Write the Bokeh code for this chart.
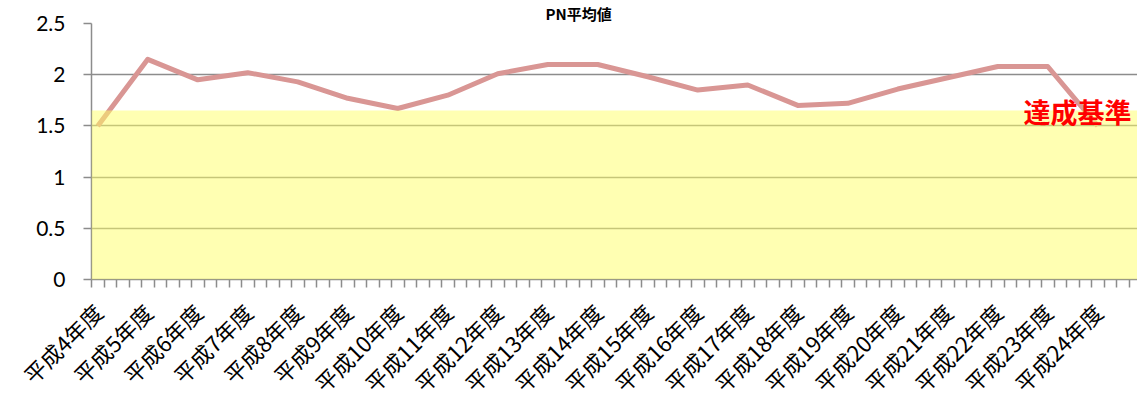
from bokeh.plotting import figure
from bokeh.models import Range1d, FixedTicker, BoxAnnotation, Label
from bokeh.embed import file_html
from bokeh.resources import INLINE
from math import pi

# ---- data ----
years = ["平成4年度", "平成5年度", "平成6年度", "平成7年度", "平成8年度", "平成9年度",
         "平成10年度", "平成11年度", "平成12年度", "平成13年度", "平成14年度", "平成15年度",
         "平成16年度", "平成17年度", "平成18年度", "平成19年度", "平成20年度", "平成21年度",
         "平成22年度", "平成23年度", "平成24年度"]
pn_values = [1.50, 2.15, 1.95, 2.02, 1.93, 1.77, 1.67, 1.80, 2.01, 2.10, 2.10, 1.98,
             1.85, 1.90, 1.70, 1.72, 1.86, 1.97, 2.08, 2.08, 1.50]
target_value = 1.65
y_ticks = [0, 0.5, 1, 1.5, 2, 2.5]
y_tick_labels = ["0", "0.5", "1", "1.5", "2", "2.5"]
title_text = "PN平均値"
target_text = "達成基準"

# x axis: each year spans 4 small tick slots; the point sits in the middle of the first slot
slots_per_year = 4
x_pos = [slots_per_year * i + 0.5 for i in range(len(years))]
slot_px = 12.5

W, H = 1137, 412
left_border, top_border, bottom_border = 91, 20, 132
frame_w = W - left_border
x_end = frame_w / slot_px

p = figure(width=W, height=H, output_backend="svg", toolbar_location=None,
           x_range=Range1d(0, x_end), y_range=Range1d(0, 2.5),
           min_border_left=left_border, min_border_right=0,
           min_border_top=top_border, min_border_bottom=bottom_border,
           outline_line_color=None, background_fill_color="white",
           title=title_text)

# title above the plot
p.title.align = "left"
p.title.offset = 583 - left_border - 38
p.title.text_font = "Noto Sans CJK JP"
p.title.text_font_size = "15px"
p.title.text_font_style = "bold"
p.title.text_color = "black"
p.title.standoff = 0

gray = "#8c8c8c"

# grid
p.xgrid.grid_line_color = None
p.ygrid.ticker = FixedTicker(ticks=y_ticks)
p.ygrid.grid_line_color = gray
p.ygrid.grid_line_width = 1.5

# y axis
ya = p.yaxis[0]
ya.ticker = FixedTicker(ticks=y_ticks)
ya.major_label_overrides = {t: s for t, s in zip(y_ticks, y_tick_labels)}
ya.axis_line_color = gray
ya.axis_line_width = 1.5
ya.major_tick_line_color = gray
ya.major_tick_line_width = 1.5
ya.major_tick_out = 8
ya.major_tick_in = 0
ya.minor_tick_line_color = None
ya.major_label_text_font = "Lato"
ya.major_label_text_font_size = "21px"
ya.major_label_text_color = "black"
ya.major_label_standoff = 18

# x axis: small ticks every slot, year labels at the points
xa = p.xaxis[0]
n_slots = slots_per_year * len(years)
xa.ticker = FixedTicker(ticks=x_pos, minor_ticks=list(range(0, n_slots + 1)))
xa.major_label_overrides = {x: y for x, y in zip(x_pos, years)}
xa.major_label_orientation = pi / 4
xa.major_label_text_font = "Noto Sans CJK JP"
xa.major_label_text_font_size = "22px"
xa.major_label_text_color = "black"
xa.major_label_standoff = 20
xa.axis_line_color = gray
xa.axis_line_width = 1.5
xa.major_tick_line_color = None
xa.major_tick_out = 8
xa.major_tick_in = 0
xa.minor_tick_line_color = gray
xa.minor_tick_line_width = 1.5
xa.minor_tick_out = 8
xa.minor_tick_in = 0

# data line
p.line(x_pos, pn_values, line_color="#D99694", line_width=5, line_join="round")

# target band (semi-transparent yellow)
band = BoxAnnotation(bottom=0, top=target_value,
                     fill_color="#FFFF66", fill_alpha=0.5, line_color=None)
p.add_layout(band)

# target label
p.add_layout(Label(x=(1131 - left_border) / slot_px, y=1.64, text=target_text,
                   text_align="right", text_baseline="middle", text_color="red",
                   text_font_style="bold", text_font="Noto Sans CJK JP",
                   text_font_size="27px"))

open("out.html", "w").write(file_html(p, INLINE))
